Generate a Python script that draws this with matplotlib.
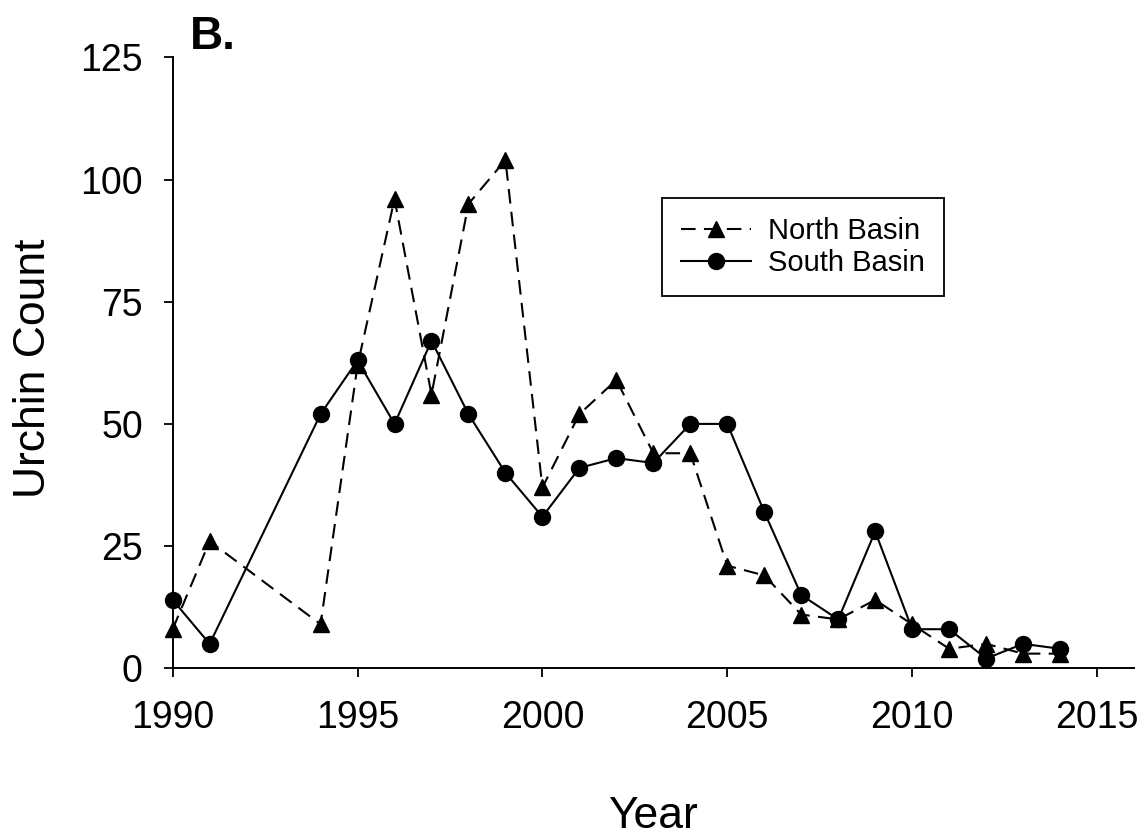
import matplotlib.pyplot as plt

plt.rcParams['font.family'] = ['Liberation Sans', 'DejaVu Sans']

years = [1990, 1991, 1994, 1995, 1996, 1997, 1998, 1999, 2000, 2001, 2002, 2003,
         2004, 2005, 2006, 2007, 2008, 2009, 2010, 2011, 2012, 2013, 2014]
north = [8, 26, 9, 62, 96, 56, 95, 104, 37, 52, 59, 44,
         44, 21, 19, 11, 10, 14, 9, 4, 5, 3, 3]
south = [14, 5, 52, 63, 50, 67, 52, 40, 31, 41, 43, 42,
         50, 50, 32, 15, 10, 28, 8, 8, 2, 5, 4]
xticks = [1990, 1995, 2000, 2005, 2010, 2015]
yticks = [0, 25, 50, 75, 100, 125]

fig = plt.figure(figsize=(11.45, 8.38), dpi=100)
ax = fig.add_axes([0.1508, 0.2025, 0.8396, 0.7291])

ax.plot(years, north, color='black', lw=1.5, ls=(0, (7, 4)), marker='^', ms=12,
        label='North Basin', clip_on=False, zorder=2)
ax.plot(years, south, color='black', lw=1.5, ls='-', marker='o', ms=11.5,
        label='South Basin', clip_on=False, zorder=3)

ax.set_xlim(1990, 2016)
ax.set_ylim(0, 125)
ax.set_xticks(xticks)
ax.set_yticks(yticks)
ax.tick_params(direction='out', length=6.5, width=1.3, labelsize=27)
ax.tick_params(axis='x', pad=16)
ax.tick_params(axis='y', pad=15)
for side in ['top', 'right']:
    ax.spines[side].set_visible(False)
for side in ['left', 'bottom']:
    ax.spines[side].set_linewidth(1.4)

fig.text(0.5703, 0.012, 'Year', fontsize=32, ha='center', va='baseline')
fig.text(0.011, 0.561, 'Urchin Count', fontsize=32, rotation=90, ha='left', va='center')
fig.text(0.166, 0.942, 'B.', fontsize=33, fontweight='bold', ha='left', va='baseline')

leg = ax.legend(loc='upper left', bbox_to_anchor=(662 / 1145, 1 - 198 / 838),
                bbox_transform=fig.transFigure, borderaxespad=0, fontsize=21,
                frameon=True, fancybox=False, framealpha=1, edgecolor='black',
                handlelength=2.4, handletextpad=0.6, labelspacing=0.15,
                borderpad=0.65)
leg.get_frame().set_linewidth(1.3)

fig.savefig('out.png', dpi=100)
